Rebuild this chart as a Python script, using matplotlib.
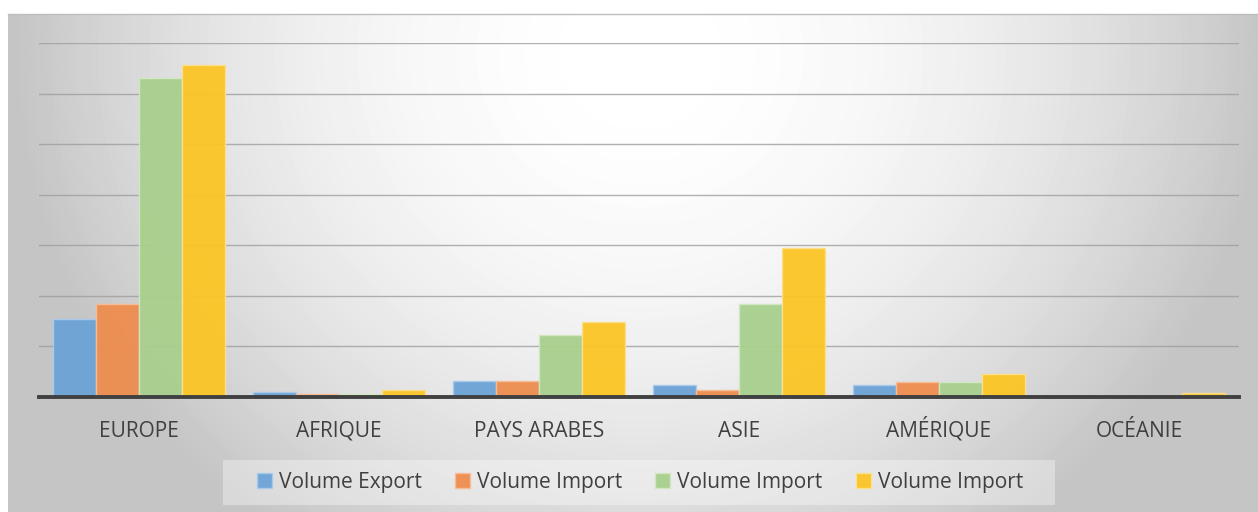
import numpy as np
import matplotlib
matplotlib.use("Agg")
import matplotlib.pyplot as plt
from matplotlib.patches import Rectangle

# ══════════════════════════════════════════════════════════════
# DONNÉES
# ══════════════════════════════════════════════════════════════
regions = ["EUROPE", "AFRIQUE", "PAYS ARABES", "ASIE", "AMÉRIQUE", "OCÉANIE"]
series_labels = ["Volume Export", "Volume Import", "Volume Import", "Volume Import"]

export_vol = [1.55, 0.09, 0.32, 0.24, 0.24, 0.00]
import_vol = [1.83, 0.06, 0.32, 0.14, 0.30, 0.00]
import_vol_2 = [6.31, 0.06, 1.23, 1.83, 0.30, 0.02]
import_vol_3 = [6.57, 0.14, 1.49, 2.94, 0.46, 0.08]

colors = ["#6CA3D6", "#EE8D4F", "#A8D08D", "#FBC525"]
edges = ["#A9CBEB", "#F6BE98", "#D2E7C3", "#FDE08C"]

plt.rcParams.update({"font.family": ["Open Sans", "DejaVu Sans"]})

fig = plt.figure(figsize=(12.58, 5.12), dpi=100)
fig.patch.set_facecolor("white")

# ── fond en dégradé radial (style Excel) ──
W, H = 1258, 512
bg = fig.add_axes([8 / W, 0, (W - 8) / W, (H - 14) / H], zorder=-2)
yy, xx = np.mgrid[0:498, 0:1250]
r2 = ((xx - 632) / 640.0) ** 2 + ((yy - 40) / 600.0) ** 2
val = np.clip(1.0 - 0.24 * r2, 0.77, 1.0)
bg.imshow(val, cmap="gray", vmin=0, vmax=1, aspect="auto",
          extent=[0, 1, 0, 1], interpolation="bilinear")
bg.set_axis_off()
fig.add_artist(plt.Line2D([8 / W, 1], [(H - 14) / H] * 2, color="#BDBDBD", lw=1))

# ══════════════════════════════════════════════════════════════
# GRAPHIQUE
# ══════════════════════════════════════════════════════════════
ax = fig.add_axes([39 / W, (H - 397) / H, 1200 / W, 354 / H])
ax.set_facecolor("none")

x = np.arange(len(regions))
width = 0.215
all_series = [export_vol, import_vol, import_vol_2, import_vol_3]
handles = []
for i, (vals, col, ec, lab) in enumerate(zip(all_series, colors, edges, series_labels)):
    b = ax.bar(x + (i - 1.5) * width, vals, width, color=col, edgecolor=ec,
               linewidth=1, alpha=0.95, zorder=2, label=lab)
    handles.append(b)

ax.set_xlim(-0.5, len(regions) - 0.5)
ax.set_ylim(0, 7)
ax.set_yticks(range(8))
ax.set_yticklabels([])
ax.grid(axis="y", color="#9E9E9E", linewidth=1, alpha=0.8, zorder=1)
ax.set_axisbelow(True)

# étiquettes alignées sur la ligne de base (accents de AMÉRIQUE)
ax.set_xticks(x)
ax.set_xticklabels(regions, fontsize=15, color="#404040", va="baseline")
ax.tick_params(axis="both", length=0)
ax.tick_params(axis="x", pad=28.5)

for s in ["top", "right", "left"]:
    ax.spines[s].set_visible(False)
ax.spines["bottom"].set_color("#404040")
ax.spines["bottom"].set_linewidth(2.8)
ax.spines["bottom"].set_zorder(3)

# ── légende ──
fig.add_artist(Rectangle((223 / W, (H - 505) / H), 832 / W, 45 / H,
                         transform=fig.transFigure, facecolor="white",
                         alpha=0.35, edgecolor="none", zorder=0))
leg = fig.legend(handles=handles, labels=series_labels, loc="center",
                 bbox_to_anchor=(640 / W, (H - 482.5) / H), ncol=4,
                 fontsize=15, frameon=False,
                 handlelength=0.7, handleheight=0.7, handletextpad=0.35,
                 columnspacing=1.6)
for t in leg.get_texts():
    t.set_color("#404040")

fig.savefig("out.png", dpi=100)
plt.close()
